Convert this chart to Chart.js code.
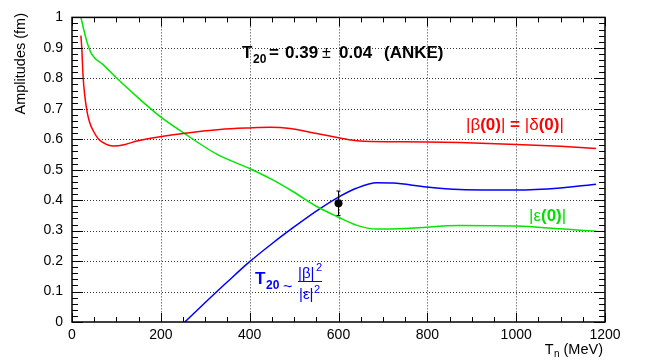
<!DOCTYPE html>
<html>
<head>
<meta charset="utf-8">
<script src="https://cdn.jsdelivr.net/npm/chart.js@4/dist/chart.umd.min.js"></script>
<style>
  body { margin: 0; background: #fff; }
  canvas { display: block; }
</style>
</head>
<body>
<canvas id="amp" width="646" height="361"></canvas>
<script>
// |beta(0)| = |delta(0)|
const redT = [20, 22, 25, 29, 34, 40, 48, 60, 75, 93, 120, 146, 198, 250, 333, 400, 446, 491, 551, 600, 648, 723, 798, 873, 1001, 1100, 1180];
const redV = [0.94, 0.90, 0.805, 0.74, 0.69, 0.654, 0.627, 0.60, 0.585, 0.578, 0.583, 0.594, 0.608, 0.619, 0.632, 0.637, 0.639, 0.635, 0.619, 0.605, 0.594, 0.592, 0.591, 0.589, 0.583, 0.577, 0.57];
// |epsilon(0)|
const greenT = [20, 33, 44, 70, 101, 146, 198, 251, 326, 401, 450, 500, 550, 600, 640, 686, 761, 873, 1001, 1100, 1180];
const greenV = [1.0, 0.923, 0.88, 0.845, 0.80, 0.74, 0.675, 0.621, 0.551, 0.503, 0.468, 0.426, 0.38, 0.344, 0.318, 0.305, 0.308, 0.317, 0.315, 0.306, 0.298];
// T20 ~ |beta|^2 / |epsilon|^2
const blueT = [254, 300, 350, 400, 450, 500, 550, 600, 640, 686, 723, 798, 873, 1001, 1100, 1180];
const blueV = [0, 0.064, 0.132, 0.198, 0.257, 0.312, 0.364, 0.41, 0.439, 0.457, 0.456, 0.443, 0.435, 0.433, 0.44, 0.452];
// ANKE measurement
const ankeT = [600];
const ankeV = [0.39];
const ankeErr = [0.04];

const xTicks = [0, 200, 400, 600, 800, 1000, 1200];
const yTicks = ['0', '0.1', '0.2', '0.3', '0.4', '0.5', '0.6', '0.7', '0.8', '0.9', '1'];

const pts = (xs, ys) => xs.map((x, i) => ({ x: x, y: ys[i] }));
const FONT = '"Liberation Sans", Arial, sans-serif';

function txt(ctx, s, x, y, font, color, align) {
    ctx.font = font + ' ' + FONT;
    ctx.fillStyle = color;
    ctx.textAlign = align || 'left';
    ctx.textBaseline = 'alphabetic';
    ctx.fillText(s, x, y);
    return ctx.measureText(s).width;
}

// draws a run of [text, font] pieces one after the other
function run(ctx, parts, x, y, color) {
    parts.forEach(p => { x += txt(ctx, p[0], x, y, p[1], color); });
}

const frame = {
    id: 'frame',
    beforeDatasetsDraw(chart) {
        const { ctx, chartArea: a, scales: { x, y } } = chart;
        ctx.save();
        ctx.strokeStyle = '#333';
        ctx.lineWidth = 1;
        ctx.setLineDash([1, 2]);
        for (let v = 200; v < 1200; v += 200) {
            const px = Math.round(x.getPixelForValue(v)) + 0.5;
            ctx.beginPath(); ctx.moveTo(px, a.top); ctx.lineTo(px, a.bottom); ctx.stroke();
        }
        for (let i = 1; i < 10; i++) {
            const py = Math.round(y.getPixelForValue(i / 10)) + 0.5;
            ctx.beginPath(); ctx.moveTo(a.left, py); ctx.lineTo(a.right, py); ctx.stroke();
        }
        ctx.restore();
    },
    afterDatasetsDraw(chart) {
        const { ctx, chartArea: a, scales: { x, y } } = chart;
        ctx.save();
        ctx.strokeStyle = '#000';
        ctx.lineWidth = 1;

        // error bar
        ankeT.forEach((t, i) => {
            const px = x.getPixelForValue(t);
            const top = y.getPixelForValue(ankeV[i] + ankeErr[i]);
            const bot = y.getPixelForValue(ankeV[i] - ankeErr[i]);
            ctx.beginPath();
            ctx.moveTo(px, top); ctx.lineTo(px, bot);
            ctx.moveTo(px - 2, top); ctx.lineTo(px + 2, top);
            ctx.moveTo(px - 2, bot); ctx.lineTo(px + 2, bot);
            ctx.stroke();
        });

        // ticks on all four sides
        ctx.beginPath();
        for (let v = 0; v <= 1200; v += 50) {
            const px = Math.round(x.getPixelForValue(v)) + 0.5;
            const len = v % 200 === 0 ? 9 : 5;
            ctx.moveTo(px, a.bottom); ctx.lineTo(px, a.bottom - len);
            ctx.moveTo(px, a.top); ctx.lineTo(px, a.top + len);
        }
        for (let k = 0; k <= 50; k++) {
            const py = Math.round(y.getPixelForValue(k * 0.02)) + 0.5;
            const len = k % 5 === 0 ? 11 : 6;
            ctx.moveTo(a.left, py); ctx.lineTo(a.left + len, py);
            ctx.moveTo(a.right, py); ctx.lineTo(a.right - len, py);
        }
        ctx.stroke();

        ctx.lineWidth = 1.5;
        ctx.strokeRect(a.left, a.top, a.right - a.left, a.bottom - a.top);

        // axis titles
        ctx.save();
        ctx.translate(25, 13);
        ctx.rotate(-Math.PI / 2);
        txt(ctx, 'Amplitudes (fm)', 0, 0, '14.5px', '#000', 'right');
        ctx.restore();
        const w1 = txt(ctx, ' (MeV)', 603, 354, '14.5px', '#000', 'right');
        txt(ctx, 'n', 603 - w1, 357, '10px', '#000', 'right');
        txt(ctx, 'T', 603 - w1 - 6, 354, '14.5px', '#000', 'right');

        // headline
        txt(ctx, 'T', 242, 58, 'bold 17px', '#000');
        txt(ctx, '20', 253, 63, 'bold 12px', '#000');
        txt(ctx, '=', 269, 58, 'bold 17px', '#000');
        txt(ctx, '0.39', 285, 58, 'bold 17px', '#000');
        txt(ctx, '±', 322, 58, '16px', '#000');
        txt(ctx, '0.04', 339, 58, 'bold 17px', '#000');
        txt(ctx, '(ANKE)', 384, 58, 'bold 17px', '#000');

        // curve labels
        run(ctx, [['|β', '17px'], ['(0)', 'bold 17px'], ['|', '17px'], [' = ', 'bold 17px'],
                  ['|δ', '17px'], ['(0)', 'bold 17px'], ['|', '17px']], 466, 130, '#ff0000');
        run(ctx, [['|ε', '17px'], ['(0)', 'bold 17px'], ['|', '17px']], 529, 221, '#00e000');

        const blue = '#0000ff';
        txt(ctx, 'T', 255, 284, 'bold 17px', blue);
        txt(ctx, '20', 266, 289, 'bold 12px', blue);
        txt(ctx, '~', 283, 292, '16px', blue);
        txt(ctx, '|β|', 298, 278, '15px', blue);
        txt(ctx, '2', 316, 271, '11px', blue);
        txt(ctx, '|ε|', 299, 299, '15px', blue);
        txt(ctx, '2', 314, 293, '11px', blue);
        ctx.strokeStyle = blue;
        ctx.lineWidth = 1;
        ctx.beginPath(); ctx.moveTo(298, 281.5); ctx.lineTo(322, 281.5); ctx.stroke();

        ctx.restore();
    }
};

const line = (data, color) => ({
    data: data,
    borderColor: color,
    borderWidth: 1.5,
    pointRadius: 0,
    fill: false,
    cubicInterpolationMode: 'monotone'
});

new Chart(document.getElementById('amp'), {
    type: 'line',
    data: {
        datasets: [
            line(pts(redT, redV), '#ff0000'),
            line(pts(greenT, greenV), '#00e600'),
            line(pts(blueT, blueV), '#0000ff'),
            {
                type: 'scatter',
                data: pts(ankeT, ankeV),
                pointRadius: 4,
                pointBackgroundColor: '#000',
                pointBorderColor: '#000',
                pointBorderWidth: 0
            }
        ]
    },
    options: {
        responsive: false,
        devicePixelRatio: 1,
        animation: false,
        layout: { padding: { top: 13, right: 41, left: 0, bottom: 0 } },
        plugins: { legend: { display: false }, tooltip: { enabled: false } },
        scales: {
            x: {
                type: 'linear',
                min: 0,
                max: 1200,
                afterFit: s => { s.height = 39; },
                afterBuildTicks: s => { s.ticks = xTicks.map(v => ({ value: v })); },
                grid: { display: false, drawTicks: false },
                border: { display: false },
                ticks: {
                    autoSkip: false,
                    maxRotation: 0,
                    padding: 5,
                    color: '#000',
                    font: { family: FONT, size: 14 },
                    callback: v => String(v)
                }
            },
            y: {
                min: 0,
                max: 1,
                afterFit: s => { s.width = 72; },
                afterBuildTicks: s => { s.ticks = yTicks.map((t, i) => ({ value: i / 10 })); },
                grid: { display: false, drawTicks: false },
                border: { display: false },
                ticks: {
                    autoSkip: false,
                    padding: 9,
                    color: '#000',
                    font: { family: FONT, size: 14 },
                    callback: (v, i) => yTicks[i]
                }
            }
        }
    },
    plugins: [frame]
});
</script>
</body>
</html>
